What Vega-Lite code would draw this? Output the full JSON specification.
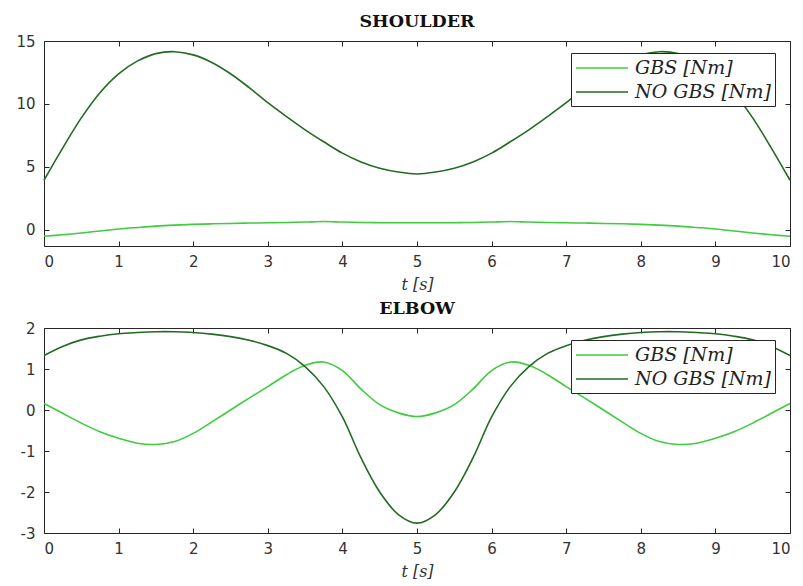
{
  "$schema": "https://vega.github.io/schema/vega-lite/v6.json",
  "padding": {"left": 15, "top": 12, "right": 0, "bottom": 0},
  "background": "white",
  "data": {"values": [
    {"t":0,"joint":"SHOULDER","series":"NO GBS [Nm]","value":3.95},
    {"t":0.25,"joint":"SHOULDER","series":"NO GBS [Nm]","value":6.5},
    {"t":0.5,"joint":"SHOULDER","series":"NO GBS [Nm]","value":8.9},
    {"t":0.75,"joint":"SHOULDER","series":"NO GBS [Nm]","value":10.9},
    {"t":1,"joint":"SHOULDER","series":"NO GBS [Nm]","value":12.4},
    {"t":1.25,"joint":"SHOULDER","series":"NO GBS [Nm]","value":13.4},
    {"t":1.5,"joint":"SHOULDER","series":"NO GBS [Nm]","value":14.0},
    {"t":1.75,"joint":"SHOULDER","series":"NO GBS [Nm]","value":14.15},
    {"t":2,"joint":"SHOULDER","series":"NO GBS [Nm]","value":13.9},
    {"t":2.25,"joint":"SHOULDER","series":"NO GBS [Nm]","value":13.3},
    {"t":2.5,"joint":"SHOULDER","series":"NO GBS [Nm]","value":12.4},
    {"t":2.75,"joint":"SHOULDER","series":"NO GBS [Nm]","value":11.3},
    {"t":3,"joint":"SHOULDER","series":"NO GBS [Nm]","value":10.1},
    {"t":3.25,"joint":"SHOULDER","series":"NO GBS [Nm]","value":9.0},
    {"t":3.5,"joint":"SHOULDER","series":"NO GBS [Nm]","value":7.95},
    {"t":3.75,"joint":"SHOULDER","series":"NO GBS [Nm]","value":7.0},
    {"t":4,"joint":"SHOULDER","series":"NO GBS [Nm]","value":6.1},
    {"t":4.25,"joint":"SHOULDER","series":"NO GBS [Nm]","value":5.4},
    {"t":4.5,"joint":"SHOULDER","series":"NO GBS [Nm]","value":4.9},
    {"t":4.75,"joint":"SHOULDER","series":"NO GBS [Nm]","value":4.6},
    {"t":5,"joint":"SHOULDER","series":"NO GBS [Nm]","value":4.45},
    {"t":5.25,"joint":"SHOULDER","series":"NO GBS [Nm]","value":4.6},
    {"t":5.5,"joint":"SHOULDER","series":"NO GBS [Nm]","value":4.9},
    {"t":5.75,"joint":"SHOULDER","series":"NO GBS [Nm]","value":5.4},
    {"t":6,"joint":"SHOULDER","series":"NO GBS [Nm]","value":6.1},
    {"t":6.25,"joint":"SHOULDER","series":"NO GBS [Nm]","value":7.0},
    {"t":6.5,"joint":"SHOULDER","series":"NO GBS [Nm]","value":7.95},
    {"t":6.75,"joint":"SHOULDER","series":"NO GBS [Nm]","value":9.0},
    {"t":7,"joint":"SHOULDER","series":"NO GBS [Nm]","value":10.1},
    {"t":7.25,"joint":"SHOULDER","series":"NO GBS [Nm]","value":11.3},
    {"t":7.5,"joint":"SHOULDER","series":"NO GBS [Nm]","value":12.4},
    {"t":7.75,"joint":"SHOULDER","series":"NO GBS [Nm]","value":13.3},
    {"t":8,"joint":"SHOULDER","series":"NO GBS [Nm]","value":13.9},
    {"t":8.25,"joint":"SHOULDER","series":"NO GBS [Nm]","value":14.15},
    {"t":8.5,"joint":"SHOULDER","series":"NO GBS [Nm]","value":14.0},
    {"t":8.75,"joint":"SHOULDER","series":"NO GBS [Nm]","value":13.4},
    {"t":9,"joint":"SHOULDER","series":"NO GBS [Nm]","value":12.4},
    {"t":9.25,"joint":"SHOULDER","series":"NO GBS [Nm]","value":10.9},
    {"t":9.5,"joint":"SHOULDER","series":"NO GBS [Nm]","value":8.9},
    {"t":9.75,"joint":"SHOULDER","series":"NO GBS [Nm]","value":6.5},
    {"t":10,"joint":"SHOULDER","series":"NO GBS [Nm]","value":3.95},

    {"t":0,"joint":"SHOULDER","series":"GBS [Nm]","value":-0.5},
    {"t":0.25,"joint":"SHOULDER","series":"GBS [Nm]","value":-0.38},
    {"t":0.5,"joint":"SHOULDER","series":"GBS [Nm]","value":-0.24},
    {"t":0.75,"joint":"SHOULDER","series":"GBS [Nm]","value":-0.08},
    {"t":1,"joint":"SHOULDER","series":"GBS [Nm]","value":0.08},
    {"t":1.25,"joint":"SHOULDER","series":"GBS [Nm]","value":0.2},
    {"t":1.5,"joint":"SHOULDER","series":"GBS [Nm]","value":0.31},
    {"t":1.75,"joint":"SHOULDER","series":"GBS [Nm]","value":0.39},
    {"t":2,"joint":"SHOULDER","series":"GBS [Nm]","value":0.45},
    {"t":2.25,"joint":"SHOULDER","series":"GBS [Nm]","value":0.49},
    {"t":2.5,"joint":"SHOULDER","series":"GBS [Nm]","value":0.52},
    {"t":2.75,"joint":"SHOULDER","series":"GBS [Nm]","value":0.55},
    {"t":3,"joint":"SHOULDER","series":"GBS [Nm]","value":0.57},
    {"t":3.25,"joint":"SHOULDER","series":"GBS [Nm]","value":0.6},
    {"t":3.5,"joint":"SHOULDER","series":"GBS [Nm]","value":0.63},
    {"t":3.75,"joint":"SHOULDER","series":"GBS [Nm]","value":0.67},
    {"t":4,"joint":"SHOULDER","series":"GBS [Nm]","value":0.63},
    {"t":4.25,"joint":"SHOULDER","series":"GBS [Nm]","value":0.6},
    {"t":4.5,"joint":"SHOULDER","series":"GBS [Nm]","value":0.58},
    {"t":4.75,"joint":"SHOULDER","series":"GBS [Nm]","value":0.57},
    {"t":5,"joint":"SHOULDER","series":"GBS [Nm]","value":0.57},
    {"t":5.25,"joint":"SHOULDER","series":"GBS [Nm]","value":0.57},
    {"t":5.5,"joint":"SHOULDER","series":"GBS [Nm]","value":0.58},
    {"t":5.75,"joint":"SHOULDER","series":"GBS [Nm]","value":0.6},
    {"t":6,"joint":"SHOULDER","series":"GBS [Nm]","value":0.63},
    {"t":6.25,"joint":"SHOULDER","series":"GBS [Nm]","value":0.67},
    {"t":6.5,"joint":"SHOULDER","series":"GBS [Nm]","value":0.63},
    {"t":6.75,"joint":"SHOULDER","series":"GBS [Nm]","value":0.6},
    {"t":7,"joint":"SHOULDER","series":"GBS [Nm]","value":0.57},
    {"t":7.25,"joint":"SHOULDER","series":"GBS [Nm]","value":0.55},
    {"t":7.5,"joint":"SHOULDER","series":"GBS [Nm]","value":0.52},
    {"t":7.75,"joint":"SHOULDER","series":"GBS [Nm]","value":0.49},
    {"t":8,"joint":"SHOULDER","series":"GBS [Nm]","value":0.45},
    {"t":8.25,"joint":"SHOULDER","series":"GBS [Nm]","value":0.39},
    {"t":8.5,"joint":"SHOULDER","series":"GBS [Nm]","value":0.31},
    {"t":8.75,"joint":"SHOULDER","series":"GBS [Nm]","value":0.2},
    {"t":9,"joint":"SHOULDER","series":"GBS [Nm]","value":0.08},
    {"t":9.25,"joint":"SHOULDER","series":"GBS [Nm]","value":-0.08},
    {"t":9.5,"joint":"SHOULDER","series":"GBS [Nm]","value":-0.24},
    {"t":9.75,"joint":"SHOULDER","series":"GBS [Nm]","value":-0.38},
    {"t":10,"joint":"SHOULDER","series":"GBS [Nm]","value":-0.5},

    {"t":0,"joint":"ELBOW","series":"NO GBS [Nm]","value":1.33},
    {"t":0.25,"joint":"ELBOW","series":"NO GBS [Nm]","value":1.55},
    {"t":0.5,"joint":"ELBOW","series":"NO GBS [Nm]","value":1.71},
    {"t":0.75,"joint":"ELBOW","series":"NO GBS [Nm]","value":1.8},
    {"t":1,"joint":"ELBOW","series":"NO GBS [Nm]","value":1.86},
    {"t":1.25,"joint":"ELBOW","series":"NO GBS [Nm]","value":1.89},
    {"t":1.5,"joint":"ELBOW","series":"NO GBS [Nm]","value":1.91},
    {"t":1.75,"joint":"ELBOW","series":"NO GBS [Nm]","value":1.91},
    {"t":2,"joint":"ELBOW","series":"NO GBS [Nm]","value":1.89},
    {"t":2.25,"joint":"ELBOW","series":"NO GBS [Nm]","value":1.85},
    {"t":2.5,"joint":"ELBOW","series":"NO GBS [Nm]","value":1.79},
    {"t":2.75,"joint":"ELBOW","series":"NO GBS [Nm]","value":1.7},
    {"t":3,"joint":"ELBOW","series":"NO GBS [Nm]","value":1.57},
    {"t":3.25,"joint":"ELBOW","series":"NO GBS [Nm]","value":1.38},
    {"t":3.5,"joint":"ELBOW","series":"NO GBS [Nm]","value":1.06},
    {"t":3.75,"joint":"ELBOW","series":"NO GBS [Nm]","value":0.57},
    {"t":4,"joint":"ELBOW","series":"NO GBS [Nm]","value":-0.17},
    {"t":4.25,"joint":"ELBOW","series":"NO GBS [Nm]","value":-1.17},
    {"t":4.5,"joint":"ELBOW","series":"NO GBS [Nm]","value":-2.0},
    {"t":4.75,"joint":"ELBOW","series":"NO GBS [Nm]","value":-2.55},
    {"t":5,"joint":"ELBOW","series":"NO GBS [Nm]","value":-2.76},
    {"t":5.25,"joint":"ELBOW","series":"NO GBS [Nm]","value":-2.55},
    {"t":5.5,"joint":"ELBOW","series":"NO GBS [Nm]","value":-2.0},
    {"t":5.75,"joint":"ELBOW","series":"NO GBS [Nm]","value":-1.17},
    {"t":6,"joint":"ELBOW","series":"NO GBS [Nm]","value":-0.17},
    {"t":6.25,"joint":"ELBOW","series":"NO GBS [Nm]","value":0.57},
    {"t":6.5,"joint":"ELBOW","series":"NO GBS [Nm]","value":1.06},
    {"t":6.75,"joint":"ELBOW","series":"NO GBS [Nm]","value":1.38},
    {"t":7,"joint":"ELBOW","series":"NO GBS [Nm]","value":1.57},
    {"t":7.25,"joint":"ELBOW","series":"NO GBS [Nm]","value":1.7},
    {"t":7.5,"joint":"ELBOW","series":"NO GBS [Nm]","value":1.79},
    {"t":7.75,"joint":"ELBOW","series":"NO GBS [Nm]","value":1.85},
    {"t":8,"joint":"ELBOW","series":"NO GBS [Nm]","value":1.89},
    {"t":8.25,"joint":"ELBOW","series":"NO GBS [Nm]","value":1.91},
    {"t":8.5,"joint":"ELBOW","series":"NO GBS [Nm]","value":1.91},
    {"t":8.75,"joint":"ELBOW","series":"NO GBS [Nm]","value":1.89},
    {"t":9,"joint":"ELBOW","series":"NO GBS [Nm]","value":1.86},
    {"t":9.25,"joint":"ELBOW","series":"NO GBS [Nm]","value":1.8},
    {"t":9.5,"joint":"ELBOW","series":"NO GBS [Nm]","value":1.71},
    {"t":9.75,"joint":"ELBOW","series":"NO GBS [Nm]","value":1.55},
    {"t":10,"joint":"ELBOW","series":"NO GBS [Nm]","value":1.33},

    {"t":0,"joint":"ELBOW","series":"GBS [Nm]","value":0.16},
    {"t":0.25,"joint":"ELBOW","series":"GBS [Nm]","value":-0.08},
    {"t":0.5,"joint":"ELBOW","series":"GBS [Nm]","value":-0.32},
    {"t":0.75,"joint":"ELBOW","series":"GBS [Nm]","value":-0.53},
    {"t":1,"joint":"ELBOW","series":"GBS [Nm]","value":-0.69},
    {"t":1.25,"joint":"ELBOW","series":"GBS [Nm]","value":-0.81},
    {"t":1.5,"joint":"ELBOW","series":"GBS [Nm]","value":-0.84},
    {"t":1.75,"joint":"ELBOW","series":"GBS [Nm]","value":-0.77},
    {"t":2,"joint":"ELBOW","series":"GBS [Nm]","value":-0.57},
    {"t":2.25,"joint":"ELBOW","series":"GBS [Nm]","value":-0.29},
    {"t":2.5,"joint":"ELBOW","series":"GBS [Nm]","value":0.0},
    {"t":2.75,"joint":"ELBOW","series":"GBS [Nm]","value":0.29},
    {"t":3,"joint":"ELBOW","series":"GBS [Nm]","value":0.57},
    {"t":3.25,"joint":"ELBOW","series":"GBS [Nm]","value":0.86},
    {"t":3.5,"joint":"ELBOW","series":"GBS [Nm]","value":1.09},
    {"t":3.75,"joint":"ELBOW","series":"GBS [Nm]","value":1.17},
    {"t":4,"joint":"ELBOW","series":"GBS [Nm]","value":0.96},
    {"t":4.25,"joint":"ELBOW","series":"GBS [Nm]","value":0.51},
    {"t":4.5,"joint":"ELBOW","series":"GBS [Nm]","value":0.13},
    {"t":4.75,"joint":"ELBOW","series":"GBS [Nm]","value":-0.07},
    {"t":5,"joint":"ELBOW","series":"GBS [Nm]","value":-0.16},
    {"t":5.25,"joint":"ELBOW","series":"GBS [Nm]","value":-0.07},
    {"t":5.5,"joint":"ELBOW","series":"GBS [Nm]","value":0.13},
    {"t":5.75,"joint":"ELBOW","series":"GBS [Nm]","value":0.51},
    {"t":6,"joint":"ELBOW","series":"GBS [Nm]","value":0.96},
    {"t":6.25,"joint":"ELBOW","series":"GBS [Nm]","value":1.17},
    {"t":6.5,"joint":"ELBOW","series":"GBS [Nm]","value":1.09},
    {"t":6.75,"joint":"ELBOW","series":"GBS [Nm]","value":0.86},
    {"t":7,"joint":"ELBOW","series":"GBS [Nm]","value":0.57},
    {"t":7.25,"joint":"ELBOW","series":"GBS [Nm]","value":0.29},
    {"t":7.5,"joint":"ELBOW","series":"GBS [Nm]","value":0.0},
    {"t":7.75,"joint":"ELBOW","series":"GBS [Nm]","value":-0.29},
    {"t":8,"joint":"ELBOW","series":"GBS [Nm]","value":-0.57},
    {"t":8.25,"joint":"ELBOW","series":"GBS [Nm]","value":-0.77},
    {"t":8.5,"joint":"ELBOW","series":"GBS [Nm]","value":-0.84},
    {"t":8.75,"joint":"ELBOW","series":"GBS [Nm]","value":-0.81},
    {"t":9,"joint":"ELBOW","series":"GBS [Nm]","value":-0.69},
    {"t":9.25,"joint":"ELBOW","series":"GBS [Nm]","value":-0.53},
    {"t":9.5,"joint":"ELBOW","series":"GBS [Nm]","value":-0.32},
    {"t":9.75,"joint":"ELBOW","series":"GBS [Nm]","value":-0.08},
    {"t":10,"joint":"ELBOW","series":"GBS [Nm]","value":0.16}
  ]},
  "spacing": 6,
  "resolve": {"scale": {"color": "independent", "x": "independent", "y": "independent"}, "legend": {"color": "independent"}},
  "vconcat": [
    {
      "width": 746, "height": 205,
      "title": {"text": "SHOULDER"},
      "transform": [{"filter": "datum.joint === 'SHOULDER'"}],
      "layer": [
        {
          "transform": [{"filter": "datum.series === 'GBS [Nm]'"}],
          "mark": {"type": "line", "interpolate": "catmull-rom", "strokeWidth": 1.6},
          "encoding": {
            "x": {"field": "t", "type": "quantitative", "scale": {"domain": [0, 10], "nice": false}, "axis": {"orient": "bottom", "title": "t [s]", "values": [0,1,2,3,4,5,6,7,8,9,10]}},
            "y": {"field": "value", "type": "quantitative", "scale": {"domain": [-1.27, 15], "nice": false, "zero": false}, "axis": {"orient": "left", "title": null, "values": [0, 5, 10, 15], "labelExpr": "datum.value + ''"}},
            "color": {"field": "series", "type": "nominal", "scale": {"domain": ["GBS [Nm]", "NO GBS [Nm]"], "range": ["#3fcc3f", "#226b22"]}, "legend": {"title": null, "orient": "none", "legendX": 527, "legendY": 12}}
          }
        },
        {
          "transform": [{"filter": "datum.series === 'NO GBS [Nm]'"}],
          "mark": {"type": "line", "interpolate": "catmull-rom", "strokeWidth": 1.6},
          "encoding": {
            "x": {"field": "t", "type": "quantitative", "scale": {"domain": [0, 10], "nice": false}, "axis": {"orient": "top", "title": null, "labels": false, "values": [0,1,2,3,4,5,6,7,8,9,10]}},
            "y": {"field": "value", "type": "quantitative", "scale": {"domain": [-1.27, 15], "nice": false, "zero": false}, "axis": {"orient": "right", "title": null, "labels": false, "values": [0, 5, 10, 15]}},
            "color": {"field": "series", "type": "nominal", "scale": {"domain": ["GBS [Nm]", "NO GBS [Nm]"], "range": ["#3fcc3f", "#226b22"]}, "legend": {"title": null, "orient": "none", "legendX": 527, "legendY": 12}}
          }
        }
      ]
    },
    {
      "width": 746, "height": 205,
      "title": {"text": "ELBOW"},
      "transform": [{"filter": "datum.joint === 'ELBOW'"}],
      "layer": [
        {
          "transform": [{"filter": "datum.series === 'GBS [Nm]'"}],
          "mark": {"type": "line", "interpolate": "catmull-rom", "strokeWidth": 1.6},
          "encoding": {
            "x": {"field": "t", "type": "quantitative", "scale": {"domain": [0, 10], "nice": false}, "axis": {"orient": "bottom", "title": "t [s]", "values": [0,1,2,3,4,5,6,7,8,9,10]}},
            "y": {"field": "value", "type": "quantitative", "scale": {"domain": [-3, 2], "nice": false, "zero": false}, "axis": {"orient": "left", "title": null, "values": [-3, -2, -1, 0, 1, 2], "labelExpr": "datum.value + ''"}},
            "color": {"field": "series", "type": "nominal", "scale": {"domain": ["GBS [Nm]", "NO GBS [Nm]"], "range": ["#3fcc3f", "#226b22"]}, "legend": {"title": null, "orient": "none", "legendX": 527, "legendY": 12}}
          }
        },
        {
          "transform": [{"filter": "datum.series === 'NO GBS [Nm]'"}],
          "mark": {"type": "line", "interpolate": "catmull-rom", "strokeWidth": 1.6},
          "encoding": {
            "x": {"field": "t", "type": "quantitative", "scale": {"domain": [0, 10], "nice": false}, "axis": {"orient": "top", "title": null, "labels": false, "values": [0,1,2,3,4,5,6,7,8,9,10]}},
            "y": {"field": "value", "type": "quantitative", "scale": {"domain": [-3, 2], "nice": false, "zero": false}, "axis": {"orient": "right", "title": null, "labels": false, "values": [-3, -2, -1, 0, 1, 2]}},
            "color": {"field": "series", "type": "nominal", "scale": {"domain": ["GBS [Nm]", "NO GBS [Nm]"], "range": ["#3fcc3f", "#226b22"]}, "legend": {"title": null, "orient": "none", "legendX": 527, "legendY": 12}}
          }
        }
      ]
    }
  ],
  "config": {
    "view": {"stroke": "#262626", "strokeWidth": 1},
    "axis": {
      "domain": false, "grid": false,
      "tickSize": 5, "offset": -5, "tickColor": "#262626", "tickWidth": 1,
      "labelFont": "DejaVu Sans", "labelFontSize": 15, "labelColor": "#333333", "labelPadding": 8,
      "titleFont": "DejaVu Serif", "titleFontStyle": "italic", "titleFontWeight": "normal", "titleFontSize": 16, "titleColor": "#333333", "titlePadding": 7
    },
    "axisLeft": {"labelPadding": 9},
    "title": {"font": "DejaVu Serif", "fontSize": 17.5, "fontWeight": "bold", "color": "#111111", "anchor": "middle", "offset": 4},
    "legend": {
      "strokeColor": "#262626", "fillColor": "white", "padding": 4,
      "labelFont": "DejaVu Serif", "labelFontStyle": "italic", "labelFontSize": 19, "labelColor": "#222222",
      "symbolType": "M-2.6,0H2.6", "symbolSize": 400, "symbolStrokeWidth": 1.6,
      "symbolOffset": 16, "labelOffset": 22, "rowPadding": 3
    }
  }
}
